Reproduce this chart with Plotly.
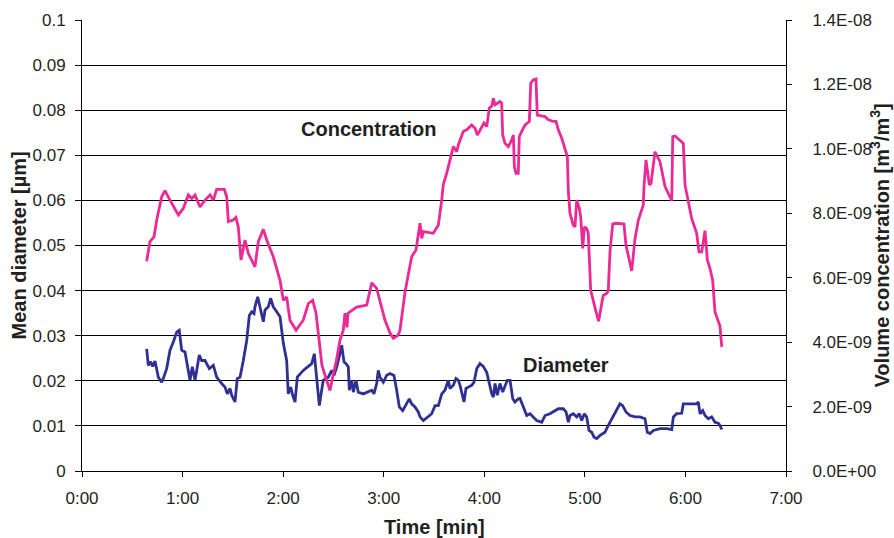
import plotly.graph_objects as go

# Volume concentration record (time in minutes, concentration in m3/m3)
conc_time = [
    0.643, 0.676, 0.716, 0.743, 0.792, 0.825, 0.875, 0.958, 1.007, 1.057,
    1.091, 1.124, 1.173, 1.223, 1.273, 1.306, 1.339, 1.415, 1.439, 1.455,
    1.504, 1.531, 1.554, 1.581, 1.621, 1.654, 1.720, 1.753, 1.803, 1.837,
    1.902, 1.969, 2.002, 2.035, 2.068, 2.128, 2.151, 2.200, 2.250, 2.294,
    2.327, 2.360, 2.386, 2.426, 2.466, 2.496, 2.526, 2.565, 2.598, 2.615,
    2.635, 2.645, 2.682, 2.731, 2.831, 2.881, 2.930, 2.963, 3.013, 3.063,
    3.096, 3.142, 3.162, 3.212, 3.278, 3.321, 3.361, 3.378, 3.394, 3.493,
    3.543, 3.577, 3.592, 3.626, 3.692, 3.726, 3.742, 3.791, 3.825, 3.875,
    3.908, 3.931, 3.974, 3.997, 4.024, 4.050, 4.074, 4.090, 4.107, 4.129,
    4.156, 4.173, 4.183, 4.206, 4.239, 4.273, 4.289, 4.299, 4.315, 4.338,
    4.348, 4.372, 4.405, 4.448, 4.462, 4.487, 4.514, 4.527, 4.571, 4.604,
    4.637, 4.686, 4.713, 4.736, 4.770, 4.803, 4.826, 4.836, 4.852, 4.885,
    4.902, 4.919, 4.945, 4.959, 4.979, 4.995, 5.018, 5.034, 5.058, 5.109,
    5.137, 5.182, 5.220, 5.233, 5.250, 5.277, 5.317, 5.389, 5.409, 5.466,
    5.499, 5.532, 5.581, 5.588, 5.608, 5.641, 5.658, 5.697, 5.747, 5.797,
    5.864, 5.874, 5.897, 5.947, 5.979, 5.996, 6.029, 6.062, 6.112, 6.135,
    6.162, 6.195, 6.218, 6.244, 6.271, 6.294, 6.344, 6.361,
]
conc = [
    6.51e-9, 7.12e-9, 7.27e-9, 7.79e-9, 8.51e-9, 8.70e-9, 8.41e-9, 7.95e-9, 8.15e-9, 8.57e-9,
    8.46e-9, 8.57e-9, 8.20e-9, 8.41e-9, 8.57e-9, 8.41e-9, 8.74e-9, 8.74e-9, 8.51e-9, 7.74e-9,
    7.79e-9, 7.87e-9, 7.58e-9, 6.55e-9, 7.17e-9, 6.75e-9, 6.34e-9, 7.12e-9, 7.50e-9, 7.17e-9,
    6.65e-9, 5.92e-9, 5.30e-9, 5.40e-9, 4.68e-9, 4.37e-9, 4.47e-9, 4.68e-9, 5.20e-9, 5.30e-9,
    4.90e-9, 4.06e-9, 3.28e-9, 2.88e-9, 2.50e-9, 2.97e-9, 3.37e-9, 4.06e-9, 4.37e-9, 4.90e-9,
    4.46e-9, 4.90e-9, 4.99e-9, 5.09e-9, 5.15e-9, 5.84e-9, 5.67e-9, 5.30e-9, 4.68e-9, 4.28e-9,
    4.12e-9, 4.21e-9, 4.37e-9, 5.56e-9, 6.65e-9, 6.86e-9, 7.69e-9, 7.22e-9, 7.43e-9, 7.38e-9,
    7.63e-9, 8.41e-9, 8.88e-9, 9.24e-9, 10.07e-9, 9.91e-9, 10.12e-9, 10.54e-9, 10.59e-9, 10.74e-9,
    10.64e-9, 10.43e-9, 10.69e-9, 10.80e-9, 10.69e-9, 11.26e-9, 11.33e-9, 11.57e-9, 11.37e-9, 11.42e-9,
    11.47e-9, 11.42e-9, 10.43e-9, 10.17e-9, 10.07e-9, 10.28e-9, 10.43e-9, 9.45e-9, 9.24e-9, 9.24e-9,
    10.38e-9, 10.54e-9, 10.74e-9, 10.85e-9, 12.04e-9, 12.14e-9, 12.17e-9, 11.05e-9, 11.02e-9, 11.00e-9,
    10.90e-9, 10.85e-9, 10.85e-9, 10.59e-9, 10.33e-9, 10.02e-9, 9.76e-9, 8.67e-9, 8.00e-9, 7.63e-9,
    7.58e-9, 8.41e-9, 8.15e-9, 7.89e-9, 6.91e-9, 7.58e-9, 7.53e-9, 7.38e-9, 5.61e-9, 4.97e-9,
    4.65e-9, 5.45e-9, 5.52e-9, 5.61e-9, 6.80e-9, 7.67e-9, 7.69e-9, 7.67e-9, 7.01e-9, 6.21e-9,
    7.22e-9, 7.79e-9, 8.26e-9, 8.83e-9, 9.66e-9, 8.88e-9, 8.93e-9, 9.91e-9, 9.60e-9, 8.83e-9,
    8.39e-9, 10.38e-9, 10.40e-9, 10.26e-9, 10.17e-9, 8.88e-9, 8.41e-9, 7.84e-9, 7.38e-9, 6.80e-9,
    6.80e-9, 7.46e-9, 6.55e-9, 6.29e-9, 5.92e-9, 4.94e-9, 4.49e-9, 3.85e-9,
]

# Mean particle diameter record (time in minutes, diameter in um)
diam_time = [
    0.643, 0.659, 0.683, 0.703, 0.726, 0.759, 0.792, 0.808, 0.842, 0.875,
    0.908, 0.942, 0.967, 0.991, 1.024, 1.057, 1.074, 1.097, 1.124, 1.166,
    1.190, 1.223, 1.266, 1.306, 1.339, 1.389, 1.422, 1.445, 1.472, 1.489,
    1.521, 1.544, 1.571, 1.604, 1.638, 1.664, 1.687, 1.710, 1.720, 1.747,
    1.777, 1.803, 1.820, 1.852, 1.876, 1.902, 1.936, 1.969, 2.002, 2.035,
    2.051, 2.075, 2.095, 2.118, 2.141, 2.168, 2.200, 2.250, 2.284, 2.310,
    2.334, 2.360, 2.383, 2.399, 2.449, 2.483, 2.506, 2.533, 2.565, 2.582,
    2.605, 2.625, 2.648, 2.658, 2.682, 2.698, 2.724, 2.747, 2.797, 2.847,
    2.881, 2.903, 2.930, 2.946, 2.963, 2.996, 3.030, 3.063, 3.102, 3.129,
    3.155, 3.189, 3.222, 3.254, 3.278, 3.311, 3.344, 3.361, 3.394, 3.443,
    3.477, 3.510, 3.543, 3.577, 3.609, 3.642, 3.659, 3.692, 3.719, 3.742,
    3.759, 3.798, 3.818, 3.841, 3.875, 3.898, 3.925, 3.957, 3.990, 4.024,
    4.050, 4.074, 4.090, 4.107, 4.129, 4.156, 4.183, 4.206, 4.229, 4.256,
    4.283, 4.305, 4.338, 4.355, 4.388, 4.422, 4.455, 4.487, 4.521, 4.571,
    4.604, 4.653, 4.703, 4.736, 4.786, 4.813, 4.836, 4.852, 4.885, 4.919,
    4.945, 4.969, 4.995, 5.018, 5.041, 5.068, 5.091, 5.118, 5.151, 5.200,
    5.233, 5.267, 5.300, 5.323, 5.349, 5.376, 5.409, 5.449, 5.499, 5.548,
    5.598, 5.621, 5.648, 5.681, 5.747, 5.814, 5.864, 5.880, 5.913, 5.963,
    5.979, 6.013, 6.112, 6.128, 6.145, 6.172, 6.195, 6.228, 6.261, 6.294,
    6.327, 6.344, 6.361,
]
diam = [
    0.0271, 0.0234, 0.0242, 0.0232, 0.0244, 0.0208, 0.0197, 0.0205, 0.0227, 0.0268,
    0.0286, 0.0308, 0.0312, 0.0268, 0.0264, 0.0223, 0.0201, 0.0231, 0.0201, 0.0257,
    0.0245, 0.0245, 0.0227, 0.0234, 0.0208, 0.0194, 0.0186, 0.0171, 0.0183, 0.0168,
    0.0153, 0.0205, 0.0208, 0.0245, 0.0290, 0.0345, 0.0353, 0.0349, 0.0364, 0.0386,
    0.0360, 0.0331, 0.0357, 0.0364, 0.0383, 0.0364, 0.0353, 0.0342, 0.0283, 0.0245,
    0.0171, 0.0186, 0.0168, 0.0153, 0.0208, 0.0216, 0.0223, 0.0232, 0.0238, 0.0260,
    0.0201, 0.0145, 0.0179, 0.0201, 0.0208, 0.0223, 0.0212, 0.0231, 0.0260, 0.0279,
    0.0242, 0.0238, 0.0231, 0.0179, 0.0201, 0.0175, 0.0201, 0.0175, 0.0171, 0.0175,
    0.0179, 0.0171, 0.0194, 0.0223, 0.0208, 0.0197, 0.0212, 0.0216, 0.0212, 0.0179,
    0.0142, 0.0134, 0.0149, 0.0160, 0.0149, 0.0142, 0.0131, 0.0120, 0.0112, 0.0120,
    0.0127, 0.0145, 0.0145, 0.0171, 0.0179, 0.0201, 0.0183, 0.0190, 0.0205, 0.0201,
    0.0190, 0.0153, 0.0183, 0.0186, 0.0190, 0.0197, 0.0227, 0.0238, 0.0232, 0.0219,
    0.0190, 0.0171, 0.0164, 0.0194, 0.0168, 0.0194, 0.0175, 0.0190, 0.0201, 0.0201,
    0.0160, 0.0153, 0.0160, 0.0161, 0.0140, 0.0123, 0.0127, 0.0120, 0.0112, 0.0108,
    0.0123, 0.0127, 0.0134, 0.0138, 0.0138, 0.0131, 0.0108, 0.0123, 0.0127, 0.0120,
    0.0127, 0.0112, 0.0127, 0.0120, 0.0090, 0.0086, 0.0075, 0.0072, 0.0079, 0.0086,
    0.0101, 0.0116, 0.0127, 0.0138, 0.0149, 0.0145, 0.0131, 0.0123, 0.0120, 0.0120,
    0.0116, 0.0086, 0.0083, 0.0090, 0.0094, 0.0094, 0.0092, 0.0120, 0.0127, 0.0128,
    0.0149, 0.0149, 0.0149, 0.0153, 0.0127, 0.0134, 0.0123, 0.0116, 0.0120, 0.0108,
    0.0106, 0.0101, 0.0092,
]

# Axis ticks
time_ticks = [0, 1, 2, 3, 4, 5, 6, 7]
time_labels = ["0:00", "1:00", "2:00", "3:00", "4:00", "5:00", "6:00", "7:00"]
diam_ticks = [0, 0.01, 0.02, 0.03, 0.04, 0.05, 0.06, 0.07, 0.08, 0.09, 0.1]
diam_labels = ["0", "0.01", "0.02", "0.03", "0.04", "0.05", "0.06", "0.07", "0.08", "0.09", "0.1"]
conc_ticks = [0, 2e-9, 4e-9, 6e-9, 8e-9, 1.0e-8, 1.2e-8, 1.4e-8]
conc_labels = ["0.0E+00", "2.0E-09", "4.0E-09", "6.0E-09", "8.0E-09", "1.0E-08", "1.2E-08", "1.4E-08"]

TEXT = "#231f20"
FONT = "Liberation Sans, Arial, sans-serif"

fig = go.Figure()
fig.add_trace(go.Scatter(
    x=diam_time, y=diam, mode="lines", name="Diameter",
    line=dict(color="#2e3192", width=2.8), yaxis="y",
))
fig.add_trace(go.Scatter(
    x=conc_time, y=conc, mode="lines", name="Concentration",
    line=dict(color="#ec2a96", width=2.8), yaxis="y2",
))

title_font = dict(size=20, color=TEXT)

fig.update_layout(
    width=894, height=538,
    margin=dict(l=82, r=108, t=20, b=67, pad=0),
    paper_bgcolor="white", plot_bgcolor="white",
    showlegend=False,
    font=dict(family=FONT, size=17, color=TEXT),
    xaxis=dict(
        range=[0, 7], tickvals=time_ticks, ticktext=time_labels,
        showgrid=False, zeroline=False,
        showline=True, linecolor="#000", linewidth=1,
        ticks="outside", ticklen=5, tickcolor="#000",
        ticklabelstandoff=7,
    ),
    yaxis=dict(
        range=[0, 0.1], tickvals=diam_ticks, ticktext=diam_labels,
        showgrid=True, gridcolor="#000", gridwidth=1, zeroline=False,
        showline=True, linecolor="#000", linewidth=1,
        ticks="outside", ticklen=6, tickcolor="#000",
        ticklabelstandoff=6,
    ),
    yaxis2=dict(
        range=[0, 1.4e-8], tickvals=conc_ticks, ticktext=conc_labels,
        overlaying="y", side="right", anchor="x",
        showgrid=False, zeroline=False,
        showline=True, linecolor="#000", linewidth=1,
        ticks="outside", ticklen=5, tickcolor="#000",
        ticklabelstandoff=17,
    ),
    annotations=[
        dict(text="<b>Concentration</b>", x=2.854, y=0.0759, xref="x", yref="y",
             xanchor="center", yanchor="middle", showarrow=False, font=title_font),
        dict(text="<b>Diameter</b>", x=4.813, y=0.0234, xref="x", yref="y",
             xanchor="center", yanchor="middle", showarrow=False, font=title_font),
        dict(text="<b>Time [min]</b>", x=0.5, y=-0.1232, xref="paper", yref="paper",
             xanchor="center", yanchor="middle", showarrow=False, font=title_font),
        dict(text="<b>Mean diameter [µm]</b>", x=-0.0909, y=0.5, xref="paper", yref="paper",
             xanchor="center", yanchor="middle", textangle=-90, showarrow=False,
             font=title_font),
        dict(text="<b>Volume concentration [m<sup>3</sup>/m<sup>3</sup>]</b>", x=1.1335, y=0.5,
             xref="paper", yref="paper", xanchor="center", yanchor="middle",
             textangle=-90, showarrow=False, font=title_font),
    ],
)

fig.write_html("out.html")
